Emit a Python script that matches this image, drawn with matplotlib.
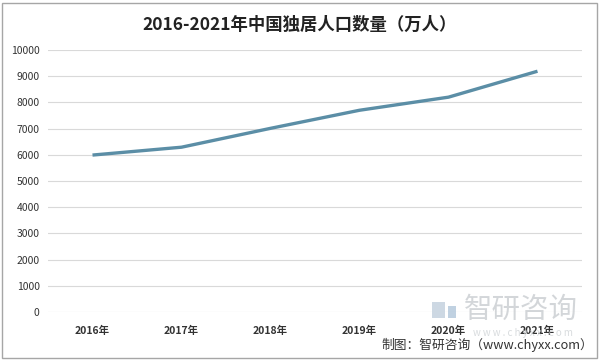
import matplotlib
matplotlib.use("Agg")
import matplotlib.pyplot as plt
from matplotlib.patches import Rectangle

plt.rcParams['font.family'] = ['Noto Sans CJK SC', 'DejaVu Sans']

years = ['2016年', '2017年', '2018年', '2019年', '2020年', '2021年']
values = [5990, 6290, 7010, 7700, 8200, 9190]
yticks = [0, 1000, 2000, 3000, 4000, 5000, 6000, 7000, 8000, 9000, 10000]

W, H = 600, 360
fig = plt.figure(figsize=(6, 3.6), dpi=100)
fig.patch.set_facecolor('white')
fig.patches.append(Rectangle((2/W, 2/H), 1 - 5/W, 1 - 5/H, transform=fig.transFigure,
                             fill=False, edgecolor='#a6a6a6', linewidth=1.0))

# watermark (behind everything)
fig.text(1 - 22/W, 1 - 310/H, '智研咨询', ha='right', va='center', fontsize=20.5,
         color='#c8ccd0', alpha=0.8, zorder=0)
fig.text(1 - 27/W, 1 - 333/H, 'w w w . c h y x x . c o m', ha='right', va='center',
         fontsize=7, color='#cfd3d6', alpha=0.8, zorder=0)
fig.patches.append(Rectangle((432/W, 1 - 318/H), 13/W, 16/H, transform=fig.transFigure,
                             facecolor='#c5d2de', edgecolor='none', alpha=0.85, zorder=0))
fig.patches.append(Rectangle((448/W, 1 - 318/H), 8/W, 12/H, transform=fig.transFigure,
                             facecolor='#b5c9dc', edgecolor='none', alpha=0.85, zorder=0))

ax = fig.add_axes([48/W, 1 - 312/H, (582 - 48)/W, (312 - 50)/H])
ax.patch.set_alpha(0)
x = list(range(len(years)))
ax.plot(x, values, color='#5b8ea6', linewidth=2.4, solid_capstyle='butt', zorder=3)
ax.set_xlim(-0.5, len(years) - 0.5)
ax.set_ylim(0, 10000)
ax.set_yticks(yticks)
ax.set_yticklabels([str(v) for v in yticks], fontsize=7.5, color='#333333')
ax.set_xticks(x)
ax.set_xticklabels(years, fontsize=7.5, fontweight='bold', color='#333333')
ax.tick_params(axis='both', length=0, pad=6)
ax.tick_params(axis='x', pad=10)
ax.grid(axis='y', color='#d9d9d9', linewidth=0.8)
ax.set_axisbelow(True)
for s in ax.spines.values():
    s.set_visible(False)

fig.text(0.5, 1 - 25/H, '2016-2021年中国独居人口数量（万人）', ha='center', va='center',
         fontsize=12.5, fontweight='bold', color='#222222')

fig.text(1 - 7/W, 1 - 345/H, '制图：智研咨询（www.chyxx.com）', ha='right', va='center',
         fontsize=9.2, color='#333333')

fig.savefig('out.png', dpi=100, facecolor='white')
